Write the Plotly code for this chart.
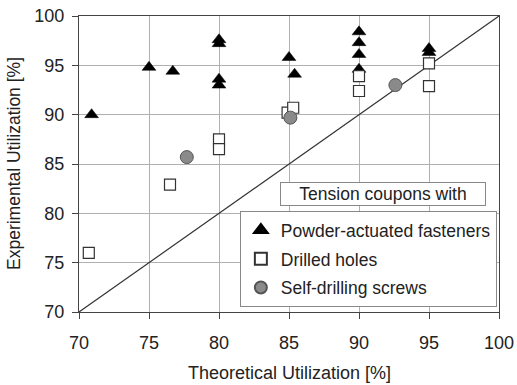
import plotly.graph_objects as go

# Powder-actuated fasteners
paf_x = [70.9, 75.0, 76.7, 80.0, 80.0, 80.0, 80.0, 85.0, 85.4, 90.0, 90.0, 90.0, 90.0, 95.0, 95.0]
paf_y = [90.0, 94.8, 94.4, 97.6, 97.2, 93.6, 93.0, 95.8, 94.1, 98.4, 97.3, 96.1, 94.6, 96.7, 96.3]
# Drilled holes
dh_x = [70.7, 76.5, 80.0, 80.0, 84.9, 85.3, 90.0, 90.0, 95.0, 95.0]
dh_y = [76.0, 82.9, 87.5, 86.5, 90.2, 90.7, 93.9, 92.4, 95.2, 92.9]
# Self-drilling screws
sds_x = [77.7, 85.1, 92.6]
sds_y = [85.7, 89.7, 93.0]
# 1:1 line
ref_x = [70, 100]
ref_y = [70, 100]

font = "Liberation Sans, Arial, sans-serif"

fig = go.Figure()
fig.add_trace(go.Scatter(x=ref_x, y=ref_y, mode="lines", line=dict(color="#333", width=1.2),
                         showlegend=False, hoverinfo="skip"))
fig.add_trace(go.Scatter(x=paf_x, y=paf_y, mode="markers", name="Powder-actuated fasteners",
                         legendgroup="a",
                         marker=dict(symbol="triangle-up", size=12, color="black",
                                     line=dict(color="black", width=0.5))))
fig.add_trace(go.Scatter(x=dh_x, y=dh_y, mode="markers", name="Drilled holes",
                         legendgroup="b",
                         marker=dict(symbol="square", size=11, color="white",
                                     line=dict(color="#333", width=1.2))))
fig.add_trace(go.Scatter(x=sds_x, y=sds_y, mode="markers", name="Self-drilling screws",
                         legendgroup="c",
                         marker=dict(symbol="circle", size=13, color="#8a8a8a",
                                     line=dict(color="#555", width=1))))

axis_common = dict(range=[70, 100], dtick=5, showgrid=True, gridcolor="#b0b0b0", gridwidth=1,
                   showline=True, linecolor="#444", linewidth=1, mirror=True,
                   ticks="outside", ticklen=6, tickcolor="#444", zeroline=False,
                   automargin=False, ticklabeloverflow="allow",
                   tickfont=dict(family=font, size=18, color="#222"))

fig.update_layout(
    width=517, height=385,
    margin=dict(l=79, r=18, t=16, b=73),
    paper_bgcolor="white", plot_bgcolor="white",
    font=dict(family=font, color="#222"),
    xaxis=dict(axis_common, ticklabelstandoff=8),
    yaxis=dict(axis_common, ticklabelstandoff=4),
    legend=dict(x=0.383, y=0.341, xanchor="left", yanchor="top",
                bgcolor="white", bordercolor="#888", borderwidth=1,
                font=dict(family=font, size=17.5, color="#222"),
                tracegroupgap=3, itemsizing="constant", itemwidth=30),
    annotations=[
        dict(text="Tension coupons with", xref="paper", yref="paper",
             x=0.723, y=0.400, xanchor="center", yanchor="middle",
             showarrow=False, font=dict(family=font, size=17.5, color="#222"),
             bgcolor="white", bordercolor="#888", borderwidth=1,
             width=202, height=20, borderpad=1),
        dict(text="Theoretical Utilization [%]", xref="paper", yref="paper",
             x=0.5, y=-0.207, xanchor="center", yanchor="middle",
             showarrow=False, font=dict(family=font, size=18, color="#222")),
        dict(text="Experimental Utilization [%]", xref="paper", yref="paper",
             x=0, xshift=-65, y=0.5, xanchor="center", yanchor="middle",
             textangle=-90, showarrow=False, font=dict(family=font, size=17.5, color="#222")),
    ],
)

# remove the default 8px page margin so the figure fills the window exactly
fig.write_html("out.html", config={"displayModeBar": False},
               post_script="document.body.style.margin='0px';")
